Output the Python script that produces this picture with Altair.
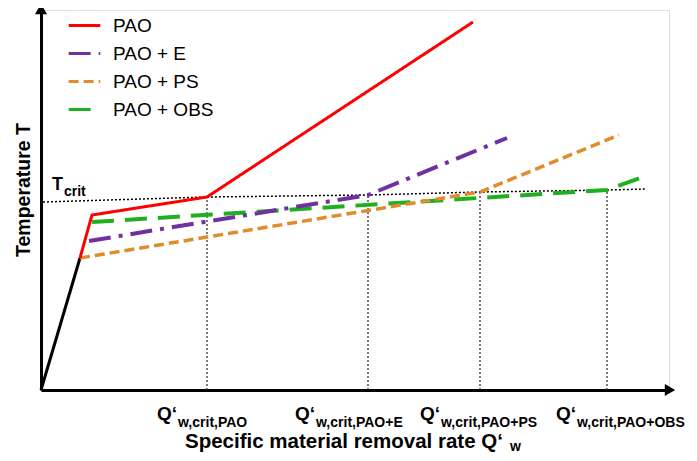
import altair as alt
import pandas as pd

FONT = "Liberation Sans"

series = ["PAO", "PAO + E", "PAO + PS", "PAO + OBS"]
colors = ["#ff0000", "#7030a0", "#e08c2c", "#1fb01f"]
dashes = [[1, 0], [22, 8, 4, 8], [10, 5], [22, 11]]
widths = [3, 4, 3.5, 4]

# polyline points of each curve (x: removal rate, y: temperature, arbitrary units)
pao_x = [39, 51, 166, 432]
pao_y = [132, 175, 193, 368]
e_x = [48, 327, 466]
e_y = [149, 195, 252]
ps_x = [39, 439, 578]
ps_y = [132, 198, 255]
obs_x = [51, 566, 602]
obs_y = [168, 200, 213]
base_x = [0, 39]
base_y = [0, 132]

tcrit_x = [2, 166, 327, 439, 566, 606]
tcrit_y = [188, 193, 195, 198, 200, 201]

crit_x = [166, 327, 439, 566]
crit_y = [193, 195, 198, 200]
crit_sub = ["w,crit,PAO", "w,crit,PAO+E", "w,crit,PAO+PS", "w,crit,PAO+OBS"]

xs = alt.Scale(domain=[0, 628], nice=False, zero=False)
ys = alt.Scale(domain=[0, 380], nice=False, zero=False)
ax = alt.Axis(domainColor="black", domainWidth=3, ticks=False, labels=False, grid=False)


def X(f):
    return alt.X(f, type="quantitative", scale=xs, axis=ax, title=None)


def Y(f):
    return alt.Y(f, type="quantitative", scale=ys, axis=ax, title=None)


rows = []
for name, xv, yv in zip(series, [pao_x, e_x, ps_x, obs_x], [pao_y, e_y, ps_y, obs_y]):
    for i, (a, b) in enumerate(zip(xv, yv)):
        rows.append({"series": name, "x": a, "y": b, "o": i})
curves = pd.DataFrame(rows)

leg = alt.Legend(
    title=None, orient="none", legendX=26, legendY=-2,
    symbolType="stroke", symbolSize=1000, symbolStrokeWidth=3,
    labelFont=FONT, labelFontSize=19, labelColor="black", labelOffset=11,
    rowPadding=-4, labelLimit=300,
)

layers = []

# Tcrit dotted line
tdf = pd.DataFrame({"x": tcrit_x, "y": tcrit_y, "o": range(len(tcrit_x))})
layers.append(
    alt.Chart(tdf).mark_line(color="black", strokeWidth=1.5, strokeDash=[2, 2])
    .encode(x=X("x"), y=Y("y"), order="o:Q")
)

# vertical dotted lines
cdf = pd.DataFrame({"x": crit_x, "y": crit_y, "y0": [0] * len(crit_x), "sub": crit_sub})
layers.append(
    alt.Chart(cdf).mark_rule(color="#333", strokeWidth=1.3, strokeDash=[2, 2])
    .encode(x=X("x"), y=Y("y0"), y2="y")
)

# black initial segment
bdf = pd.DataFrame({"x": base_x, "y": base_y})
layers.append(
    alt.Chart(bdf).mark_line(color="black", strokeWidth=3).encode(x=X("x"), y=Y("y"))
)

# curves (drawn from back to front so the red is on top)
for name, w in reversed(list(zip(series, widths))):
    layers.append(
        alt.Chart(curves[curves.series == name]).mark_line(strokeWidth=w, strokeCap="butt")
        .encode(
            x=X("x"), y=Y("y"), order="o:Q",
            color=alt.Color("series:N", scale=alt.Scale(domain=series, range=colors), legend=leg),
            strokeDash=alt.StrokeDash("series:N", scale=alt.Scale(domain=series, range=dashes), legend=leg),
        )
    )

# axis arrows
layers.append(
    alt.Chart(pd.DataFrame({"a": [0]})).mark_point(shape="triangle-up", filled=True, size=144, color="black", opacity=1)
    .encode(x=alt.value(0), y=alt.value(-1))
)
layers.append(
    alt.Chart(pd.DataFrame({"a": [0]})).mark_point(shape="triangle-right", filled=True, size=144, color="black", opacity=1)
    .encode(x=alt.value(629), y=alt.value(380))
)

# x critical labels
q_dx = [-50, -73, -60, -51]
for i in range(len(crit_x)):
    one = cdf.iloc[[i]]
    layers.append(
        alt.Chart(one).mark_text(text="Q‘", font=FONT, fontSize=19, fontWeight="bold", align="left",
                                 baseline="alphabetic", dx=q_dx[i], color="black")
        .encode(x=X("x"), y=alt.value(410))
    )
    layers.append(
        alt.Chart(one).mark_text(font=FONT, fontSize=14, fontWeight="bold", align="left",
                                 baseline="alphabetic", dx=q_dx[i] + 21, color="black")
        .encode(x=X("x"), y=alt.value(417), text="sub:N")
    )

# Tcrit label
one0 = pd.DataFrame({"a": [0]})
layers.append(
    alt.Chart(one0).mark_text(text="T", font=FONT, fontSize=18, fontWeight="bold", align="left",
                              baseline="alphabetic", color="black")
    .encode(x=alt.value(11), y=alt.value(180))
)
layers.append(
    alt.Chart(one0).mark_text(text="crit", font=FONT, fontSize=14, fontWeight="bold", align="left",
                              baseline="alphabetic", color="black")
    .encode(x=alt.value(23), y=alt.value(186))
)

# axis titles
layers.append(
    alt.Chart(one0).mark_text(text="Specific material removal rate Q‘", font=FONT, fontSize=20.5,
                              fontWeight="bold", align="left", baseline="alphabetic", color="black")
    .encode(x=alt.value(144), y=alt.value(438))
)
layers.append(
    alt.Chart(one0).mark_text(text="w", font=FONT, fontSize=14, fontWeight="bold", align="left",
                              baseline="alphabetic", color="black")
    .encode(x=alt.value(469), y=alt.value(441))
)
layers.append(
    alt.Chart(one0).mark_text(text="Temperature T", font=FONT, fontSize=19.5, fontWeight="bold",
                              align="center", baseline="middle", angle=270, color="black")
    .encode(x=alt.value(-17), y=alt.value(180))
)

chart = (
    alt.layer(*layers)
    .resolve_scale(color="shared", strokeDash="shared")
    .properties(
        width=628, height=380,
        autosize=alt.AutoSizeParams(type="none"),
        padding={"left": 33, "top": 2, "right": 20, "bottom": 63},
    )
    .configure_view(stroke="#777777", strokeWidth=1.5)
    .configure(background="white")
)

chart.save("out.html", embed_options={"renderer": "svg", "actions": False})
